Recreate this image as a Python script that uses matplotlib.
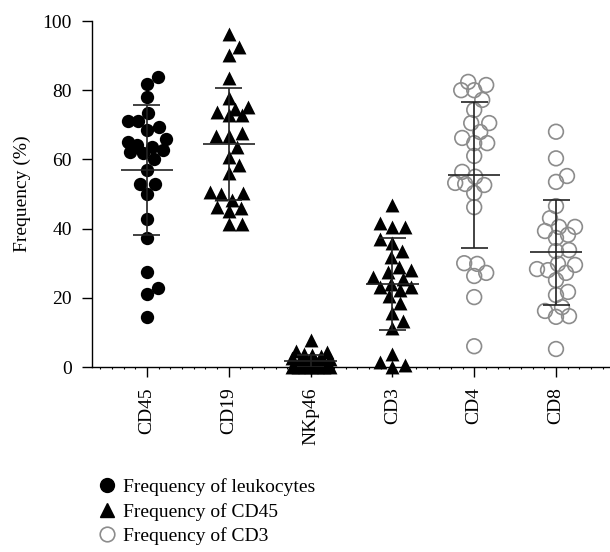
import numpy as np
import matplotlib
matplotlib.use("Agg")
import matplotlib.pyplot as plt
from matplotlib.lines import Line2D
from matplotlib.ticker import MultipleLocator

plt.rcParams['font.family'] = ['Liberation Serif', 'DejaVu Serif']

# DATA
categories = ["CD45", "CD19", "NKp46", "CD3", "CD4", "CD8"]

cd45 = [83.8, 81.8, 78.0, 73.4, 71.0, 71.0, 69.4, 68.5, 65.9, 65.0, 64.2, 63.6,
        62.7, 62.0, 61.8, 60.0, 57.0, 53.0, 52.9, 50.0, 42.8, 37.3, 27.5, 22.8,
        21.1, 14.5]
cd19 = [96.2, 92.5, 90.2, 83.5, 77.7, 75.1, 74.5, 73.7, 72.8, 72.8, 67.6, 66.8,
        66.8, 63.6, 60.7, 58.4, 56.0, 50.6, 50.3, 50.0, 48.3, 46.2, 46.0, 45.1,
        41.3, 41.3]
nkp46 = [7.8, 4.6, 4.4, 3.9, 3.5, 3.1, 2.7, 2.4, 2.0, 1.8, 1.5, 1.2, 1.0, 0.9,
         0.7, 0.5, 0.4, 0.3, 0.2, 0.1, 0.1, 0.0, 0.0, 0.0, 0.0, 0.0]
cd3 = [46.8, 41.6, 40.5, 40.5, 37.0, 35.8, 33.5, 31.8, 28.9, 28.0, 27.5, 26.0,
       25.4, 24.0, 23.1, 23.1, 22.3, 20.5, 18.5, 15.6, 13.3, 11.3, 3.8, 1.4,
       0.5, 0.0]
cd4 = [82.4, 81.5, 80.0, 80.0, 77.2, 74.3, 70.5, 70.5, 67.9, 66.2, 64.7, 64.7,
       61.0, 56.4, 55.0, 53.2, 52.9, 52.6, 50.3, 46.2, 30.0, 29.8, 27.2, 26.3,
       20.2, 6.0]
cd8 = [68.0, 60.3, 55.2, 53.5, 46.5, 43.0, 40.5, 40.5, 39.3, 38.2, 37.3, 33.8,
       33.5, 29.8, 29.5, 28.3, 28.0, 27.2, 25.1, 21.7, 20.8, 17.3, 16.2, 14.7,
       14.5, 5.2]

means = [57.0, 64.5, 1.8, 24.0, 55.5, 33.2]
sds = [18.8, 16.1, 1.8, 13.3, 21.0, 15.2]

legend_labels = ["Frequency of leukocytes", "Frequency of CD45", "Frequency of CD3"]

groups = [cd45, cd19, nkp46, cd3, cd4, cd8]
kinds = ["dot", "tri", "tri", "tri", "ring", "ring"]


def swarm_x(ax, xc, vals, diam_px, maxw_px, overlap=0.95):
    # simple beeswarm in pixel space, capped width; lowest values go in first
    p0 = ax.transData.transform((0, 0))
    p1 = ax.transData.transform((1, 1))
    sx, sy = p1[0] - p0[0], p1[1] - p0[1]
    vals = np.sort(np.asarray(vals, dtype=float))
    ys = vals * sy
    cands = [0.0]
    for k in range(1, int(maxw_px) + 1):
        cands += [float(k), float(-k)]
    placed = []
    offs = []
    thr = diam_px * overlap
    for y in ys:
        best, best_d = 0.0, -1
        for c in cands:
            d = min([np.hypot(c - px, y - py) for px, py in placed] or [1e9])
            if d >= thr:
                best = c
                break
            if d > best_d:
                best, best_d = c, d
        placed.append((best, y))
        offs.append(best)
    return xc + np.array(offs) / sx, vals


fig = plt.figure(figsize=(6.1, 5.52), dpi=100)
ax = fig.add_axes([92 / 610, 1 - 367 / 552, 518 / 610, 346 / 552])
ax.set_xlim(-0.672, 5.66)
ax.set_ylim(0, 100)

for i, (vals, kind) in enumerate(zip(groups, kinds)):
    xs, ys = swarm_x(ax, i, vals, 13, 19)
    if kind == "dot":
        ax.scatter(xs, ys, s=92, marker='o', color='black', linewidths=0,
                   zorder=3, clip_on=False)
    elif kind == "tri":
        ax.scatter(xs, ys, s=100, marker='^', color='black', linewidths=0,
                   zorder=3, clip_on=False)
    else:
        ax.scatter(xs, ys, s=112, marker='o', facecolors='none',
                   edgecolors='#8c8c8c', linewidths=1.2, zorder=3, clip_on=False)
    m, sd = means[i], sds[i]
    ax.hlines(m, i - 0.32, i + 0.32, color='#222222', lw=1.2, zorder=4)
    ax.vlines(i, m - sd, m + sd, color='#222222', lw=1.2, zorder=4)
    ax.hlines([m - sd, m + sd], i - 0.165, i + 0.165, color='#222222', lw=1.2, zorder=4)

ax.spines['top'].set_visible(False)
ax.spines['right'].set_visible(False)
ax.spines['left'].set_linewidth(1.0)
ax.spines['bottom'].set_linewidth(1.0)

ax.set_yticks(range(0, 101, 20))
ax.set_xticks(range(len(categories)))
ax.set_xticklabels(categories, rotation=90)
ax.xaxis.set_minor_locator(MultipleLocator(1 / 7))
ax.tick_params(axis='both', which='major', direction='out', length=7.5, width=1,
               pad=7, labelsize=14)
ax.tick_params(axis='x', which='minor', direction='out', length=1.5, width=0.8)
ax.set_ylabel("Frequency (%)", fontsize=14, labelpad=8)

handles = [
    Line2D([], [], ls='', marker='o', color='black', markersize=10),
    Line2D([], [], ls='', marker='^', color='black', markersize=10),
    Line2D([], [], ls='', marker='o', markerfacecolor='none',
           markeredgecolor='#8c8c8c', markeredgewidth=1.2, markersize=10.5),
]
fig.legend(handles, legend_labels, loc='upper left', bbox_to_anchor=(97 / 610, 1 - 478 / 552),
           frameon=False, fontsize=14, handlelength=1.0, handletextpad=0.35,
           labelspacing=0.35, borderpad=0, borderaxespad=0)

fig.savefig("out.png", dpi=100)
